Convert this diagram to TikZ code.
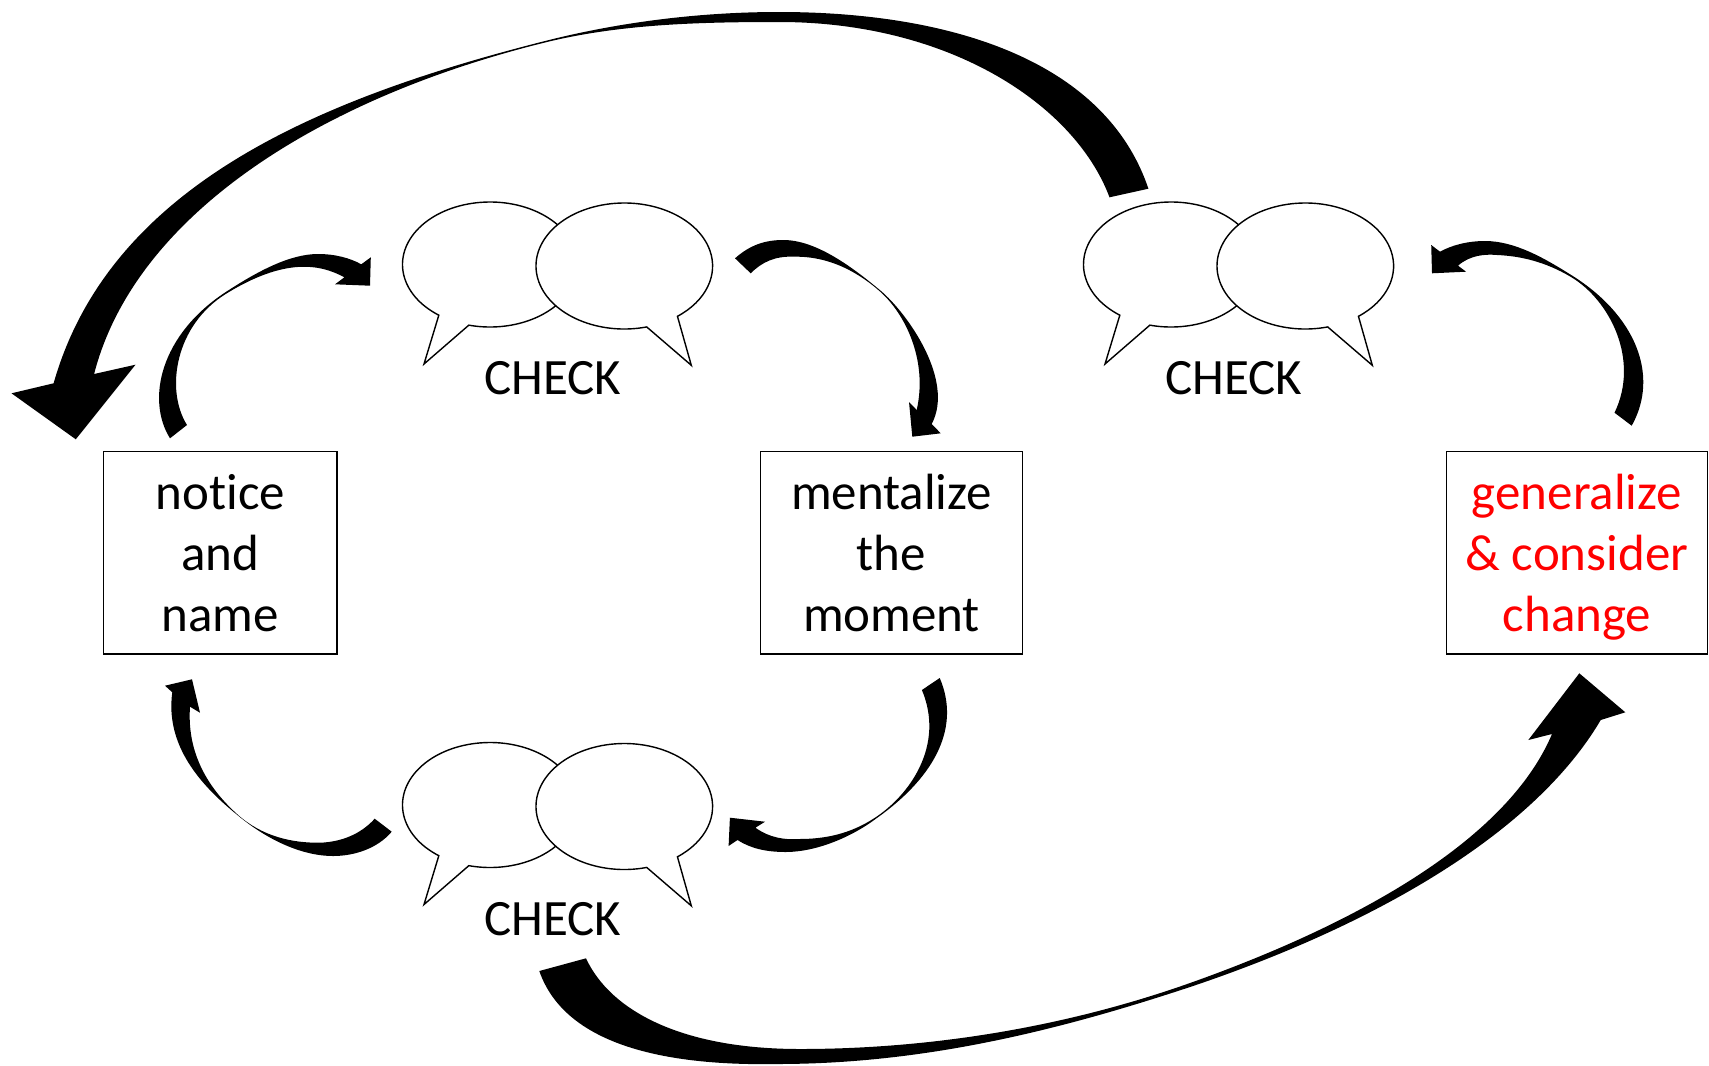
\documentclass[tikz,border=0pt]{standalone}
\usepackage{fontspec}
\setmainfont[Ligatures=NoCommon]{Carlito}
\usetikzlibrary{positioning}
\definecolor{alertred}{RGB}{255,0,0}
\newcommand{\toplinestrut}{\rule{0pt}{30.6pt}}

\tikzset{
    stepbox/.style={draw, line width=0.65pt, minimum height=4.05cm, inner sep=0pt, align=center, font=\fontsize{29}{34.85}\selectfont},
    sweep/.style={fill=black},
    bubble/.style={draw, fill=white, line width=0.8pt},
    bubblepair/.pic={
        \draw[bubble] (125.8:87.5 and 62.5) arc[start angle=125.8, end angle=464, x radius=87.5, y radius=62.5] -- (-66,99.5) -- cycle;
        \draw[bubble] (134.3,1.5) ++(75.3:88.3 and 63) arc[start angle=75.3, end angle=413, x radius=88.3, y radius=63] -- (201.3,100.8) -- cycle;
        \node[font=\fontsize{29}{34.85}\selectfont] (-label) at (62.6,114) {CHECK};
    }
}

\begin{document}
\begin{tikzpicture}[x=0.02cm, y=-0.02cm]
            \useasboundingbox (0,0) rectangle (1709,1065);
            \node[stepbox, minimum width=4.667cm] (notice) at (220.4,552.8) {\toplinestrut notice\\and\\name\strut};
            \node[stepbox, minimum width=5.232cm] (mentalize) at (891.5,552.8) {\toplinestrut mentalize\\the\\moment\strut};
            \node[stepbox, minimum width=5.234cm, text=alertred] (generalize) at (1576.9,552.8) {\toplinestrut generalize\\\& consider\\change\strut};
            \pic (checktop) at (490,264.5) {bubblepair};
            \pic (checkright) at (1171,264.5) {bubblepair};
            \pic (checkbottom) at (490,805) {bubblepair};
            % arrow ends
            \coordinate (noticetail) at (170,438.3);
            \coordinate (checktoptip) at (370,285.7);
            \coordinate (checktoptail) at (735,258.3);
            \coordinate (mentalizetip) at (912.3,436.7);
            \coordinate (mentalizetail) at (939.7,678);
            \coordinate (checkbottomtip) at (728.6,846);
            \coordinate (checkbottomtail) at (391.7,831.7);
            \coordinate (noticetip) at (165,685.7);
            \coordinate (generalizetail) at (1631.7,425.7);
            \coordinate (checkrighttip) at (1432,273.3);
            \coordinate (checkrighttail) at (1148.4,188.7);
            \coordinate (returntip) at (75.8,439.3);
            \coordinate (leavetail) at (539.3,971);
            \coordinate (generalizetip) at (1579.3,673.3);
            % small arrows
            \fill[sweep] (noticetail) .. controls (146,400) and (160,335) .. (225.8,292)
                .. controls (258,271) and (290,254) .. (318,254)
                .. controls (335,254) and (350,258) .. (361.3,264.3) -- (370.8,257.3) -- (checktoptip) -- (335,284.3) -- (344.4,277.3)
                .. controls (320,264) and (285,257.6) .. (226.5,293.5)
                .. controls (175,325) and (165,390) .. (187,425) -- cycle;
            \fill[sweep] (checktoptail) .. controls (750,245) and (765,240) .. (783.3,240)
                .. controls (815,240) and (850,265) .. (881,291)
                .. controls (907,313) and (955,380) .. (931.7,424) -- (940.7,433.3) -- (mentalizetip) -- (909,402) -- (916.7,410)
                .. controls (928,360) and (905,313.6) .. (880,291.5)
                .. controls (850,265) and (820,256) .. (793.3,256.7)
                .. controls (775,256) and (762,262) .. (750.7,273.3) -- cycle;
            \fill[sweep] (mentalizetail) .. controls (960,725) and (938,775) .. (875.5,819)
                .. controls (850,838) and (815,852) .. (785.7,852)
                .. controls (765,852) and (750,848) .. (737.5,840) -- (checkbottomtip) -- (729.9,817.7) -- (765,821.7) -- (755.4,827.7)
                .. controls (770,838) and (785,840) .. (799,839)
                .. controls (825,839) and (850,834) .. (874.5,818)
                .. controls (910,795) and (945,745) .. (921.9,690) -- cycle;
            \fill[sweep] (checkbottomtail) .. controls (378,848) and (355,856) .. (333.3,856)
                .. controls (300,856) and (265,838) .. (238,815.5)
                .. controls (200,785) and (165,745) .. (172.3,692.3) -- (noticetip) -- (192,679.3) -- (200,712.7) -- (190,706.7)
                .. controls (187,750) and (205,785) .. (237,814)
                .. controls (262,836.6) and (292,843) .. (320,842.7)
                .. controls (340,842) and (360,835) .. (374.7,818.7) -- cycle;
            \fill[sweep] (generalizetail) .. controls (1660,375) and (1635,315) .. (1572,275.5)
                .. controls (1545,258.5) and (1515,241) .. (1485,241)
                .. controls (1468,241) and (1452,245) .. (1440,251.7) -- (1431.2,245) -- (checkrighttip) -- (1466,271.7) -- (1458,265.7)
                .. controls (1470,255) and (1485,254) .. (1497,255)
                .. controls (1520,256) and (1545,261.5) .. (1571,277)
                .. controls (1610,300.4) and (1640,360) .. (1614.5,412.7) -- cycle;
            % big arrows
            \fill[sweep] (checkrighttail) .. controls (1105,60) and (950,12) .. (779,12)
                .. controls (700,12) and (620,22) .. (545,41)
                .. controls (320,98) and (110,185) .. (53.6,383.3) -- (11.5,393.3) -- (returntip) -- (135.5,364.7) -- (94.1,374)
                .. controls (135,215) and (320,98) .. (545,42.5)
                .. controls (620,24) and (700,22) .. (779,22)
                .. controls (950,22) and (1075,105) .. (1109.5,197.3) -- cycle;
            \fill[sweep] (leavetail) .. controls (565,1045) and (665,1066) .. (776.8,1064)
                .. controls (925,1064) and (1060,1030) .. (1190,987)
                .. controls (1360,930) and (1530,840) .. (1600.7,720) -- (1625.3,712.3) -- (generalizetip) -- (1528.3,740) -- (1552,734)
                .. controls (1505,845) and (1345,928) .. (1190,983)
                .. controls (1060,1029) and (925,1049) .. (800,1049)
                .. controls (680,1049) and (610,1010) .. (586,958.3) -- cycle;
        \end{tikzpicture}
\end{document}
